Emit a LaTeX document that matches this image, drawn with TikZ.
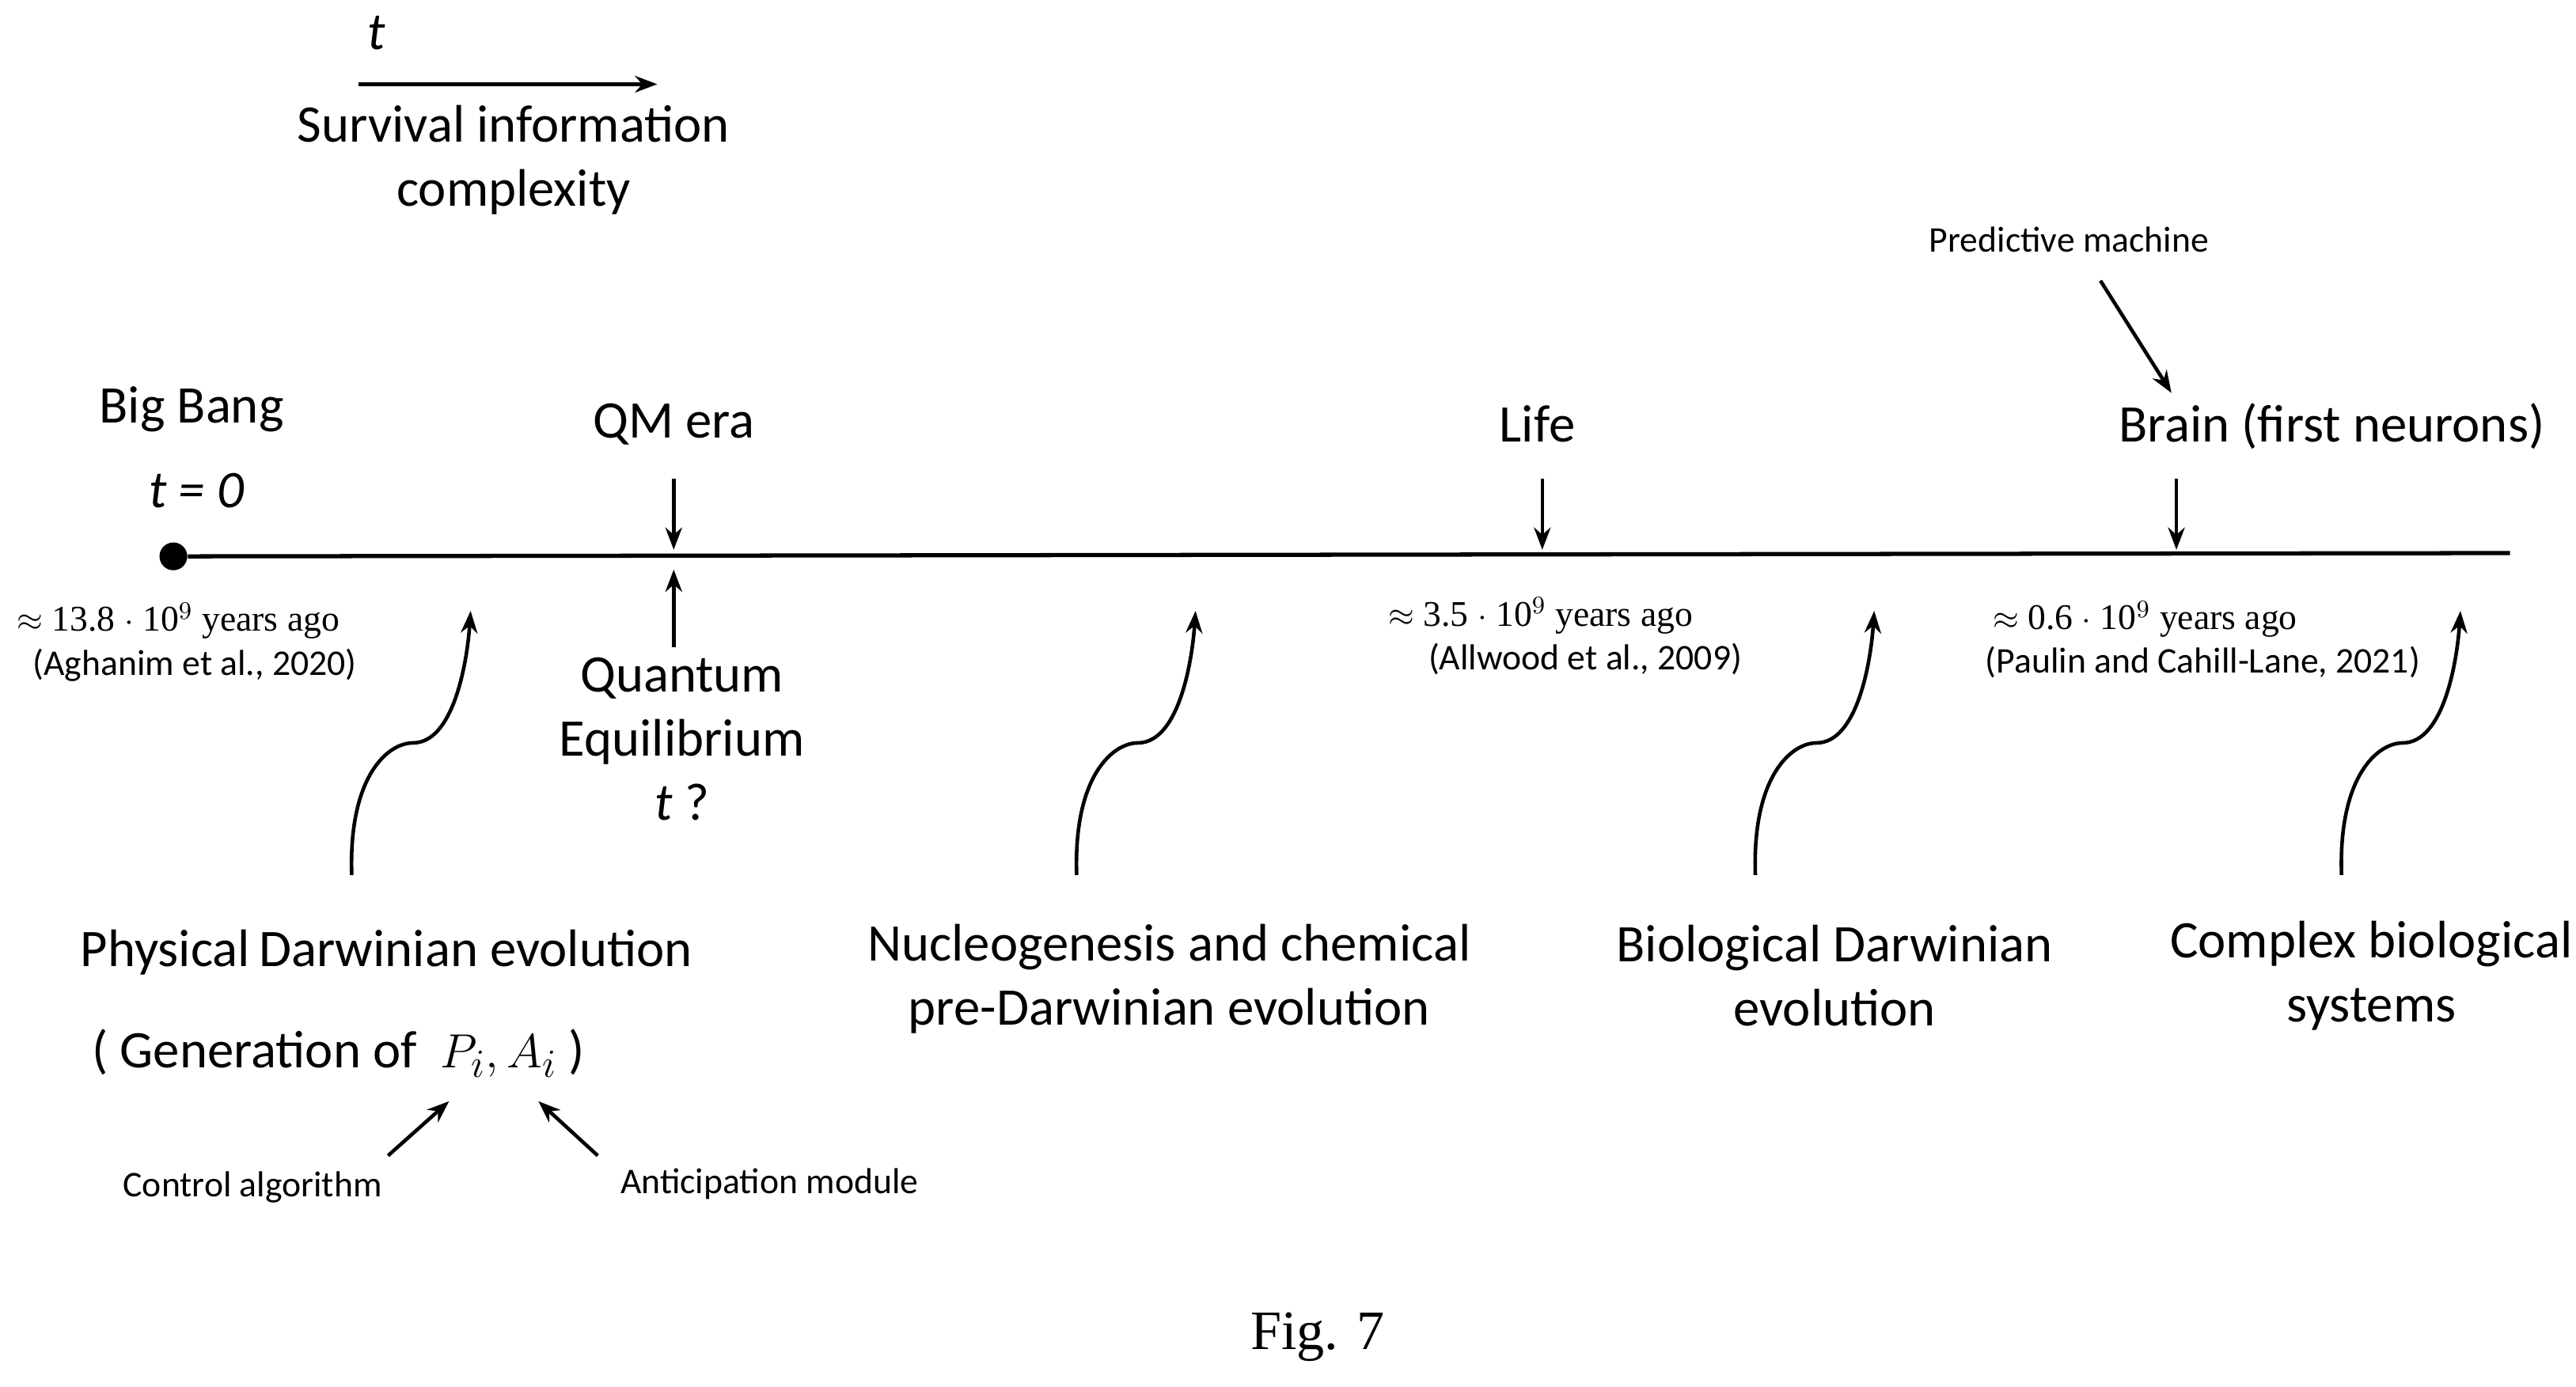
\documentclass[tikz,border=0pt]{standalone}
\usepackage{fontspec}
\setmainfont{Carlito}
\newfontfamily\tms{Liberation Serif}
\usetikzlibrary{arrows.meta}
\begin{document}
\begin{tikzpicture}[x=0.02087cm,y=-0.02087cm,
  lbl/.style={font=\fontsize{19}{23}\selectfont,align=center,inner sep=0},
  sml/.style={font=\fontsize{13}{16}\selectfont,align=center,inner sep=0},
  cit/.style={font=\tms\fontsize{13}{16}\selectfont,align=center,inner sep=0},
  arr/.style={-{Stealth[length=8pt,width=6pt]},line width=1.3pt},
  curv/.style={-{Stealth[length=8pt,width=6pt]},line width=1.3pt}]
\useasboundingbox (0,0) rectangle (1560,840);
% legend
\node[lbl,font=\itshape\fontsize{19}{23}\selectfont] (tl) at (228,20) {t};
\coordinate (la) at (217,51); \coordinate (lb) at (398,51);
\draw[arr] (la) -- (lb);
\node[lbl] (sic) at (311,97) {Survival information\\complexity};
% timeline
\node[circle,fill,inner sep=0,minimum size=10pt] (dot) at (105,337) {};
\coordinate (end) at (1520,335);
\draw[line width=1.5pt] (dot) -- (end);
\node[lbl] (bb) at (116,248) {Big Bang};
\node[lbl,font=\itshape\fontsize{19}{23}\selectfont] (t0) at (119,297) {t = 0};
\node[lbl] (qm) at (408,257) {QM era};
\node[lbl] (life) at (931,257) {Life};
\node[lbl] (brain) at (1412,258) {Brain (first neurons)};
\node[sml] (pm) at (1253,145) {Predictive machine};
\coordinate (a1) at (408,290); \coordinate (a1e) at (408,333);
\coordinate (a2) at (408,392); \coordinate (a2e) at (408,345);
\coordinate (a3) at (934,290); \coordinate (a3e) at (934,333);
\coordinate (a4) at (1318,290); \coordinate (a4e) at (1318,333);
\coordinate (a5) at (1272,170); \coordinate (a5e) at (1315,238);
\draw[arr] (a1) -- (a1e); \draw[arr] (a2) -- (a2e);
\draw[arr] (a3) -- (a3e); \draw[arr] (a4) -- (a4e); \draw[arr] (a5) -- (a5e);
\node[lbl,anchor=north] (qe) at (413,398) {Quantum\\Equilibrium\\\textit{t} ?};
% citations
\node[cit] (c1) at (108,376) {$\approx$ 13.8 $\cdot$ 10$^9$ years ago};
\node[sml] (c1b) at (118,403) {(Aghanim et al., 2020)};
\node[cit] (c2) at (933,373) {$\approx$ 3.5 $\cdot$ 10$^9$ years ago};
\node[sml] (c2b) at (960,399) {(Allwood et al., 2009)};
\node[cit] (c3) at (1299,375) {$\approx$ 0.6 $\cdot$ 10$^9$ years ago};
\node[sml] (c3b) at (1334,401) {(Paulin and Cahill-Lane, 2021)};
% curvy arrows
\foreach \x/\n in {213/p,652/q,1063/r,1418/s}{
  \coordinate (\n s) at (\x,530);
  \coordinate (\n m) at (\x+37,450);
  \coordinate (\n e) at (\x+72,370);
  \draw[curv] (\n s) .. controls (\x-2,470) and (\x+22,450) .. (\n m)
    .. controls (\x+62,450) and (\x+70,400) .. (\n e);
}
% bottom labels
\node[lbl] (pde) at (234,577) {Physical\,Darwinian evolution};
\node[lbl] (gen) at (205,638) {( Generation of \ $P_i, A_i$ )};
\node[lbl] (nuc) at (708,593) {Nucleogenesis and chemical\\pre-Darwinian evolution};
\node[lbl] (bio) at (1111,591) {Biological Darwinian\\evolution};
\node[lbl] (cbs) at (1436,591) {Complex biological\\systems};
\node[sml] (ca) at (153,719) {Control algorithm};
\node[sml] (am) at (466,717) {Anticipation module};
\coordinate (b1) at (235,700); \coordinate (b1e) at (272,667);
\coordinate (b2) at (362,700); \coordinate (b2e) at (326,667);
\draw[arr] (b1) -- (b1e); \draw[arr] (b2) -- (b2e);
\node[font=\tms\fontsize{20}{24}\selectfont,inner sep=0] (fig) at (798,810) {Fig. 7};
\end{tikzpicture}
\end{document}
